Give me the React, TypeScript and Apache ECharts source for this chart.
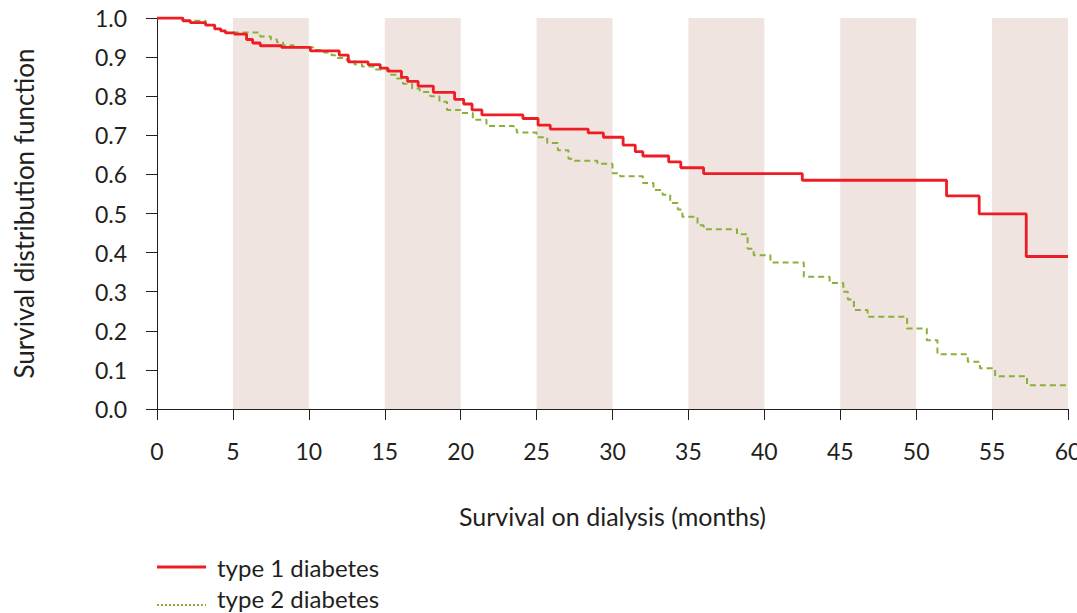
import React, { useEffect, useRef } from "react";
import * as echarts from "echarts";

// Kaplan-Meier estimates: [month of event, survival after the event]
const type1Survival: [number, number][] = [
  [0, 1.0], [1.7, 0.993], [2.2, 0.988], [3.2, 0.982], [3.8, 0.972], [4.2, 0.967],
  [4.5, 0.962], [5.1, 0.959], [5.9, 0.945], [6.3, 0.936], [6.8, 0.929], [8.2, 0.925],
  [10.1, 0.916], [12.0, 0.905], [12.6, 0.888], [13.9, 0.881], [14.7, 0.872],
  [15.2, 0.864], [16.1, 0.848], [16.5, 0.838], [17.2, 0.826], [18.2, 0.81],
  [19.6, 0.792], [20.2, 0.78], [20.75, 0.765], [21.4, 0.752], [24.1, 0.743],
  [25.1, 0.726], [25.9, 0.716], [28.4, 0.706], [29.4, 0.695], [30.7, 0.675],
  [31.5, 0.658], [32.0, 0.647], [33.7, 0.632], [34.5, 0.617], [36.0, 0.602],
  [42.5, 0.585], [52.0, 0.545], [54.15, 0.499], [57.25, 0.39], [60, 0.39],
];

const type2Survival: [number, number][] = [
  [0, 1.0], [1.7, 0.993], [3.2, 0.982], [3.8, 0.972], [4.5, 0.963], [6.8, 0.953],
  [7.5, 0.945], [7.9, 0.938], [8.3, 0.93], [9.0, 0.925], [10.3, 0.918], [11.0, 0.912],
  [11.5, 0.905], [11.8, 0.898], [12.5, 0.892], [13.0, 0.882], [13.5, 0.876],
  [14.4, 0.868], [15.3, 0.855], [15.8, 0.845], [16.2, 0.832], [16.8, 0.82],
  [17.3, 0.811], [18.0, 0.8], [18.6, 0.786], [19.1, 0.765], [20.0, 0.757],
  [20.8, 0.74], [21.7, 0.724], [23.5, 0.715], [23.7, 0.707], [25.0, 0.695],
  [25.7, 0.68], [26.4, 0.662], [27.1, 0.64], [27.4, 0.635], [29.0, 0.627],
  [30.0, 0.603], [30.5, 0.595], [32.0, 0.578], [32.7, 0.56], [33.3, 0.548],
  [33.8, 0.527], [34.3, 0.51], [34.6, 0.492], [35.6, 0.47], [36.0, 0.46],
  [38.2, 0.447], [38.9, 0.41], [39.3, 0.393], [40.4, 0.375], [42.6, 0.338],
  [44.3, 0.322], [45.2, 0.3], [45.5, 0.28], [45.9, 0.253], [46.8, 0.236],
  [49.4, 0.206], [50.7, 0.176], [51.4, 0.14], [53.4, 0.121], [54.2, 0.104],
  [55.2, 0.084], [57.3, 0.061], [60, 0.061],
];

// Shaded alternate 5-month bands
const bandStarts = [5, 15, 25, 35, 45, 55];
const bandWidth = 5;

const seriesNames = ["type 1 diabetes", "type 2 diabetes"];

const FONT = "Lato, 'DejaVu Sans', sans-serif";
const TEXT = "#231f20";
const RED = "#ee1c25";
const GREEN = "#8bb03a";

export default function App() {
  const ref = useRef<HTMLDivElement>(null);

  useEffect(() => {
    if (!ref.current) return;
    const chart = echarts.init(ref.current, undefined, { renderer: "svg" });

    const axisLine = { show: true, lineStyle: { color: "#231f20", width: 1 } };

    chart.setOption({
      animation: false,
      backgroundColor: "#ffffff",
      grid: {
        left: 157,
        right: 9,
        top: 18,
        bottom: 204,
        containLabel: false,
        outerBoundsMode: "none",
      },
      xAxis: {
        type: "value",
        min: 0,
        max: 60,
        interval: 5,
        axisLine,
        axisTick: { show: true, length: 11, lineStyle: { color: "#231f20" } },
        splitLine: { show: false },
        axisLabel: { fontSize: 23, color: TEXT, fontFamily: FONT, margin: 30 },
        name: "Survival on dialysis (months)",
        nameLocation: "middle",
        nameGap: 94,
        nameTextStyle: { fontSize: 25, color: TEXT, fontFamily: FONT },
      },
      yAxis: {
        type: "value",
        min: 0,
        max: 1,
        interval: 0.1,
        axisLine,
        axisTick: { show: true, length: 11, lineStyle: { color: "#231f20" } },
        splitLine: { show: false },
        axisLabel: {
          fontSize: 23,
          color: TEXT,
          fontFamily: FONT,
          margin: 30,
          formatter: (v: number) => v.toFixed(1),
        },
        name: "Survival distribution function",
        nameLocation: "middle",
        nameGap: 120,
        nameTextStyle: { fontSize: 26, color: TEXT, fontFamily: FONT },
      },
      series: [
        {
          name: seriesNames[1],
          type: "line",
          step: "end",
          data: type2Survival,
          showSymbol: false,
          z: 3,
          lineStyle: { color: GREEN, width: 2, type: [6, 4] },
          markArea: {
            silent: true,
            itemStyle: { color: "#efe4df" },
            data: bandStarts.map((s) => [{ xAxis: s }, { xAxis: s + bandWidth }]),
          },
        },
        {
          name: seriesNames[0],
          type: "line",
          step: "end",
          data: type1Survival,
          showSymbol: false,
          z: 4,
          lineStyle: { color: RED, width: 2.8 },
        },
      ],
      graphic: [
        {
          type: "line",
          shape: { x1: 157, y1: 567, x2: 206, y2: 567 },
          style: { stroke: RED, lineWidth: 2.8 },
        },
        {
          type: "text",
          x: 217,
          y: 567,
          style: {
            text: seriesNames[0],
            fontSize: 24,
            fontFamily: FONT,
            fill: TEXT,
            verticalAlign: "middle",
          },
        },
        {
          type: "line",
          shape: { x1: 157, y1: 605, x2: 206, y2: 605 },
          style: { stroke: GREEN, lineWidth: 2, lineDash: [2, 2] },
        },
        {
          type: "text",
          x: 217,
          y: 598,
          style: {
            text: seriesNames[1],
            fontSize: 24,
            fontFamily: FONT,
            fill: TEXT,
            verticalAlign: "middle",
          },
        },
      ],
    });

    return () => chart.dispose();
  }, []);

  return (
    <div
      ref={ref}
      style={{ position: "fixed", left: 0, top: 0, width: 1077, height: 613 }}
    />
  );
}
